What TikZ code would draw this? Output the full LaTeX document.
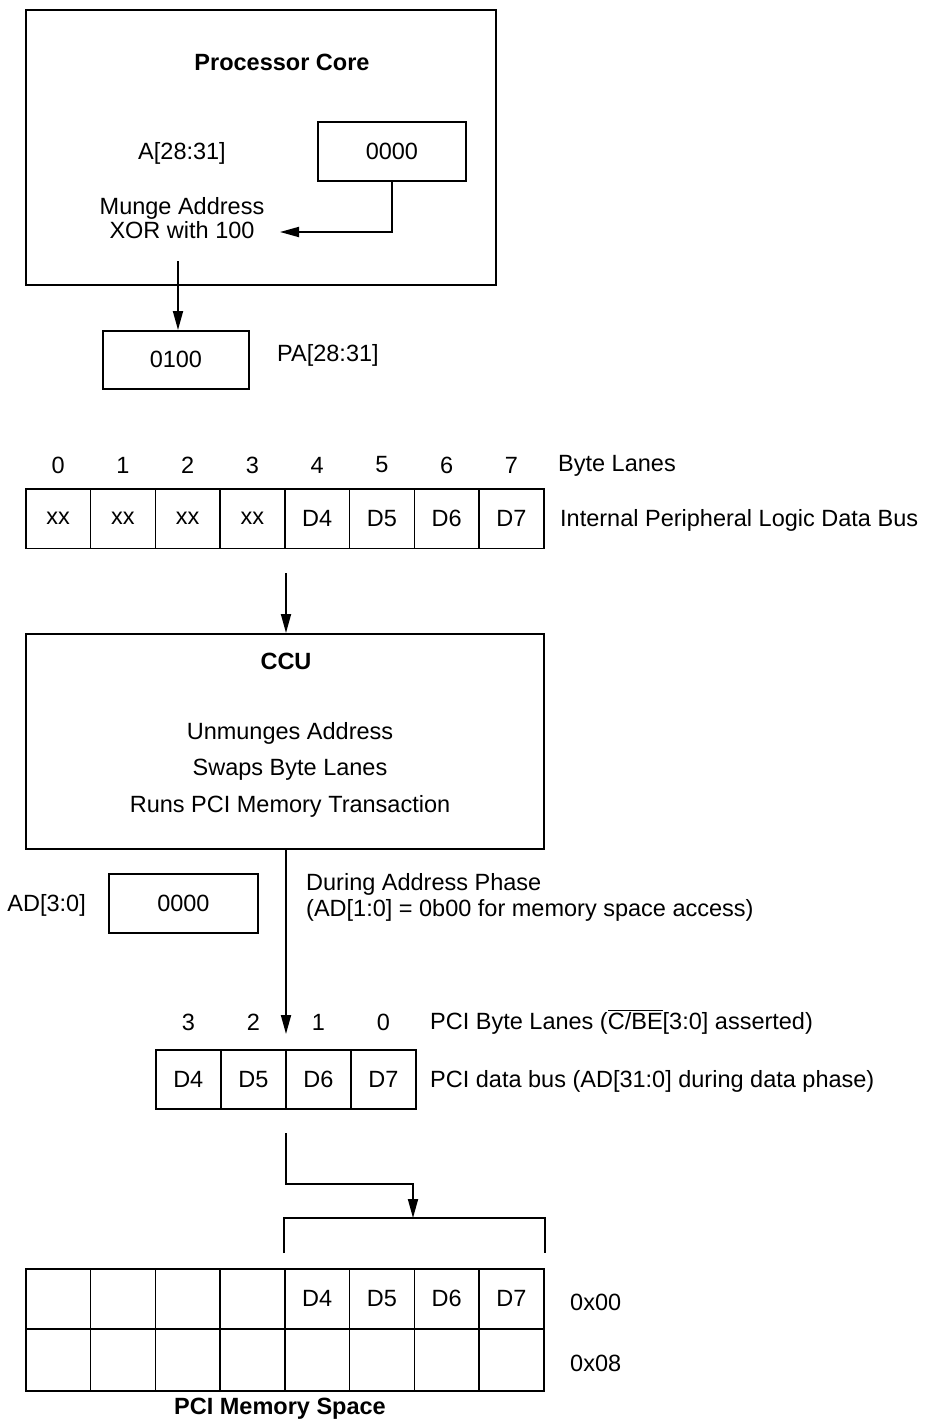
\documentclass[tikz,border=0pt]{standalone}
\usepackage{fontspec}
\setmainfont{Liberation Sans}
\usetikzlibrary{arrows.meta,calc}
\begin{document}
\begin{tikzpicture}[x=1pt,y=-1pt,
  every node/.style={font=\fontsize{23.5}{25}\selectfont},
  box/.style={draw,line width=1.8pt,inner sep=0pt},
  cell/.style={draw,line width=1.6pt,inner sep=0pt,minimum width=64.75pt,minimum height=59.5pt,anchor=north west},
  pcell/.style={draw,line width=1.6pt,inner sep=0pt,minimum width=65pt,minimum height=59pt,anchor=north west},
  lbl/.style={inner sep=0pt},
  arr/.style={line width=1.8pt,-{Triangle[length=19pt,width=10pt]}},
  ln/.style={line width=1.8pt}]
\useasboundingbox (0,0) rectangle (926,1423);

% Processor core
\node[box,minimum width=470pt,minimum height=275pt,anchor=north west] (core) at (25,9) {};
\node[lbl,font=\fontsize{23.5}{25}\selectfont\bfseries] (coret) at (282,62) {Processor Core};
\node[lbl] (a2831) at (182,153) {A[28:31]};
\node[box,minimum width=148pt,minimum height=59pt,anchor=north west] (zero) at (317,121) {0000};
\node[lbl,align=center,font=\fontsize{23.5}{24}\selectfont] (munge) at (182,218) {Munge Address\\XOR with 100};
\coordinate (mungein) at (280,232);
\draw[arr] (zero.south) |- (mungein);
\coordinate (mungeout) at (178,261);
\node[box,minimum width=146pt,minimum height=58pt,anchor=north west] (pa) at (102,330) {0100};
\draw[arr] (mungeout) -- (mungeout |- pa.north);
\node[lbl,anchor=west] (palbl) at (277,355) {PA[28:31]};

% Internal data bus
\foreach \i/\t in {0/xx,1/xx,2/xx,3/xx,4/D4,5/D5,6/D6,7/D7}{
  \node[cell] (b\i) at (25+64.75*\i,488) {\t};
  \node[lbl] (n\i) at ($(b\i.north)+(0,-23)$) {\i};
}
\node[lbl,anchor=west] (bl) at (558,466) {Byte Lanes};
\node[lbl,anchor=west] (ipl) at (560,520) {Internal Peripheral Logic Data Bus};

% CCU
\coordinate (busout) at (286,573);
\node[box,minimum width=518pt,minimum height=215pt,anchor=north west] (ccu) at (25,633) {};
\draw[arr] (busout) -- (busout |- ccu.north);
\node[lbl,font=\fontsize{23.5}{25}\selectfont\bfseries] (ccut) at (286,661) {CCU};
\node[lbl] (c1) at (290,733) {Unmunges Address};
\node[lbl] (c2) at (290,770) {Swaps Byte Lanes};
\node[lbl] (c3) at (290,806) {Runs PCI Memory Transaction};

% Address phase
\node[lbl,anchor=east] (adl) at (86,905) {AD[3:0]};
\node[box,minimum width=149pt,minimum height=59pt,anchor=north west] (ad) at (108,873) {0000};
\node[lbl,anchor=north west,align=left,font=\fontsize{23.5}{26}\selectfont] (dap) at (306,873) {During Address Phase\\(AD[1:0] = 0b00 for memory space access)};
\coordinate (lanein) at (286,1034);
\draw[arr] (ccu.south -| lanein) -- (lanein);

% PCI byte lanes
\foreach \i/\t/\n in {0/D4/3,1/D5/2,2/D6/1,3/D7/0}{
  \node[pcell] (p\i) at (155+65*\i,1049) {\t};
  \node[lbl] (pn\i) at ($(p\i.north)+(0,-27)$) {\n};
}
\node[lbl,anchor=west] (pbl) at (430,1022) {PCI Byte Lanes ($\overline{\mbox{C/BE}}$[3:0] asserted)};
\node[lbl,anchor=west] (pdb) at (430,1081) {PCI data bus (AD[31:0] during data phase)};

% connector to memory
\coordinate (pcout) at (286,1133);
\coordinate (brk) at (413,1218);
\draw[arr] (pcout) -- ++(0,51) -| (brk);

% memory space
\foreach \i in {0,...,7}{
  \node[cell,minimum height=60pt] (m0\i) at (25+64.75*\i,1268) {};
  \node[cell,minimum height=62pt] (m1\i) at (25+64.75*\i,1328) {};
}
\foreach \i/\t in {4/D4,5/D5,6/D6,7/D7}{
  \node[lbl] at (m0\i) {\t};
}
\draw[ln] ($(m04.north west)+(0,-15)$) -- ($(m04.north west)+(0,-50)$) -- ($(m07.north east)+(0,-50)$) -- ($(m07.north east)+(0,-15)$);
\node[lbl,anchor=west] (x00) at (570,1302) {0x00};
\node[lbl,anchor=west] (x08) at (570,1363) {0x08};
\node[lbl,font=\fontsize{23.5}{25}\selectfont\bfseries] (pms) at (280,1409) {PCI Memory Space};
\end{tikzpicture}
\end{document}
